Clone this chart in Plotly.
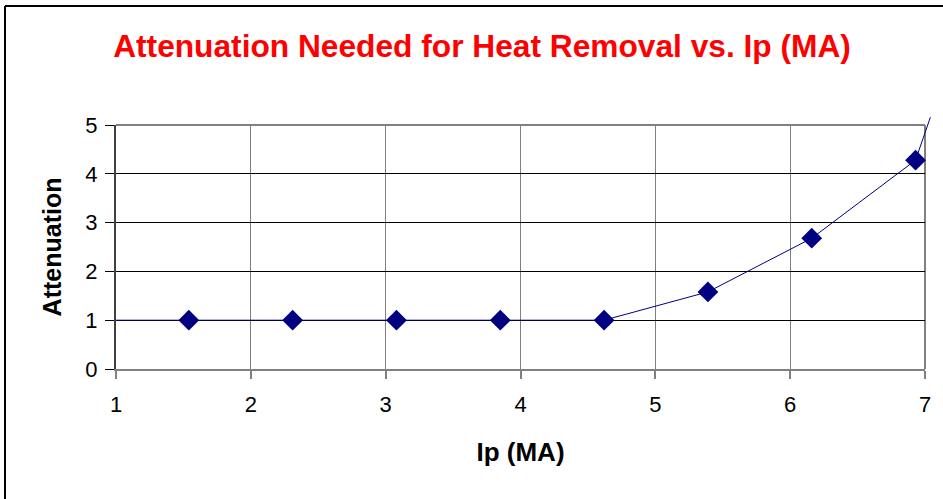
import plotly.graph_objects as go

# Data
ip_ma = [1.54, 2.31, 3.08, 3.85, 4.62, 5.39, 6.16, 6.93]
attenuation = [1.0, 1.0, 1.0, 1.0, 1.0, 1.58, 2.68, 4.28]
# line continues past the markers at both ends
line_start = (1.0, 1.0)
line_end = (7.04, 5.16)

x_ticks = [1, 2, 3, 4, 5, 6, 7]
y_ticks = [0, 1, 2, 3, 4, 5]

W, H = 943, 499
L, R, T, B = 116, 18, 125, 130
xr = [1, 7]
yr = [0, 5]

fig = go.Figure()

line_x = [line_start[0]] + ip_ma
line_y = [line_start[1]] + attenuation
fig.add_trace(go.Scatter(x=line_x, y=line_y, mode="lines",
                         line=dict(color="#000080", width=1), hoverinfo="skip"))
fig.add_trace(go.Scatter(x=ip_ma, y=attenuation, mode="markers",
                         marker=dict(symbol="diamond", size=16, color="#000080"),
                         cliponaxis=False))

pw = W - L - R
ph = H - T - B
def px(xv):
    return (xv - xr[0]) / (xr[1] - xr[0])
def py(yv):
    return (yv - yr[0]) / (yr[1] - yr[0])

shapes = []
# final segment drawn unclipped (in paper coords)
shapes.append(dict(type="line", xref="paper", yref="paper",
                   x0=px(ip_ma[-1]), y0=py(attenuation[-1]),
                   x1=px(line_end[0]), y1=py(line_end[1]),
                   line=dict(color="#000080", width=1), layer="above"))
# plot-area border (top and right gray)
shapes.append(dict(type="line", xref="paper", yref="paper", x0=0, x1=1, y0=1, y1=1,
                   line=dict(color="#808080", width=2), layer="below"))
shapes.append(dict(type="line", xref="paper", yref="paper", x0=1, x1=1, y0=0, y1=1,
                   line=dict(color="#808080", width=2), layer="below"))
# chart frame (top and left)
fx = (5 - L) / pw
fy = 1 + (T - 6) / ph
shapes.append(dict(type="line", xref="paper", yref="paper", x0=fx, x1=1 + R / pw + 0.01,
                   y0=fy, y1=fy, line=dict(color="black", width=2)))
shapes.append(dict(type="line", xref="paper", yref="paper", x0=fx, x1=fx,
                   y0=fy, y1=-B / ph - 0.01, line=dict(color="black", width=2)))

fig.update_layout(
    width=W, height=H,
    margin=dict(l=L, r=R, t=T, b=B),
    paper_bgcolor="white", plot_bgcolor="white",
    showlegend=False,
    font=dict(family="Liberation Sans, Arial, sans-serif", color="black"),
    title=dict(text="<b>Attenuation Needed for Heat Removal vs. Ip (MA)</b>",
               font=dict(size=31.7, color="#ff0000"),
               x=(482) / W, xanchor="center", y=1 - 46 / H, yanchor="middle"),
    xaxis=dict(range=xr, tickvals=x_ticks, ticks="outside", ticklen=8,
               tickcolor="#808080", tickwidth=2, ticklabelstandoff=7,
               showline=True, linecolor="#808080", linewidth=2,
               showgrid=True, gridcolor="#808080", gridwidth=1,
               zeroline=False, tickfont=dict(size=22),
               title=dict(text="<b>Ip (MA)</b>", font=dict(size=26), standoff=26)),
    yaxis=dict(range=yr, tickvals=y_ticks, ticks="outside", ticklen=9,
               tickcolor="black", tickwidth=1, ticklabelstandoff=3,
               showline=True, linecolor="#404040", linewidth=2,
               showgrid=True, gridcolor="black", gridwidth=1,
               zeroline=False, tickfont=dict(size=22),
               title=dict(text="<b>Attenuation</b>", font=dict(size=25), standoff=17)),
    shapes=shapes,
)

fig.write_html("out.html", config={"displayModeBar": False},
               post_script="document.body.style.margin='0';document.body.style.overflow='hidden';")
